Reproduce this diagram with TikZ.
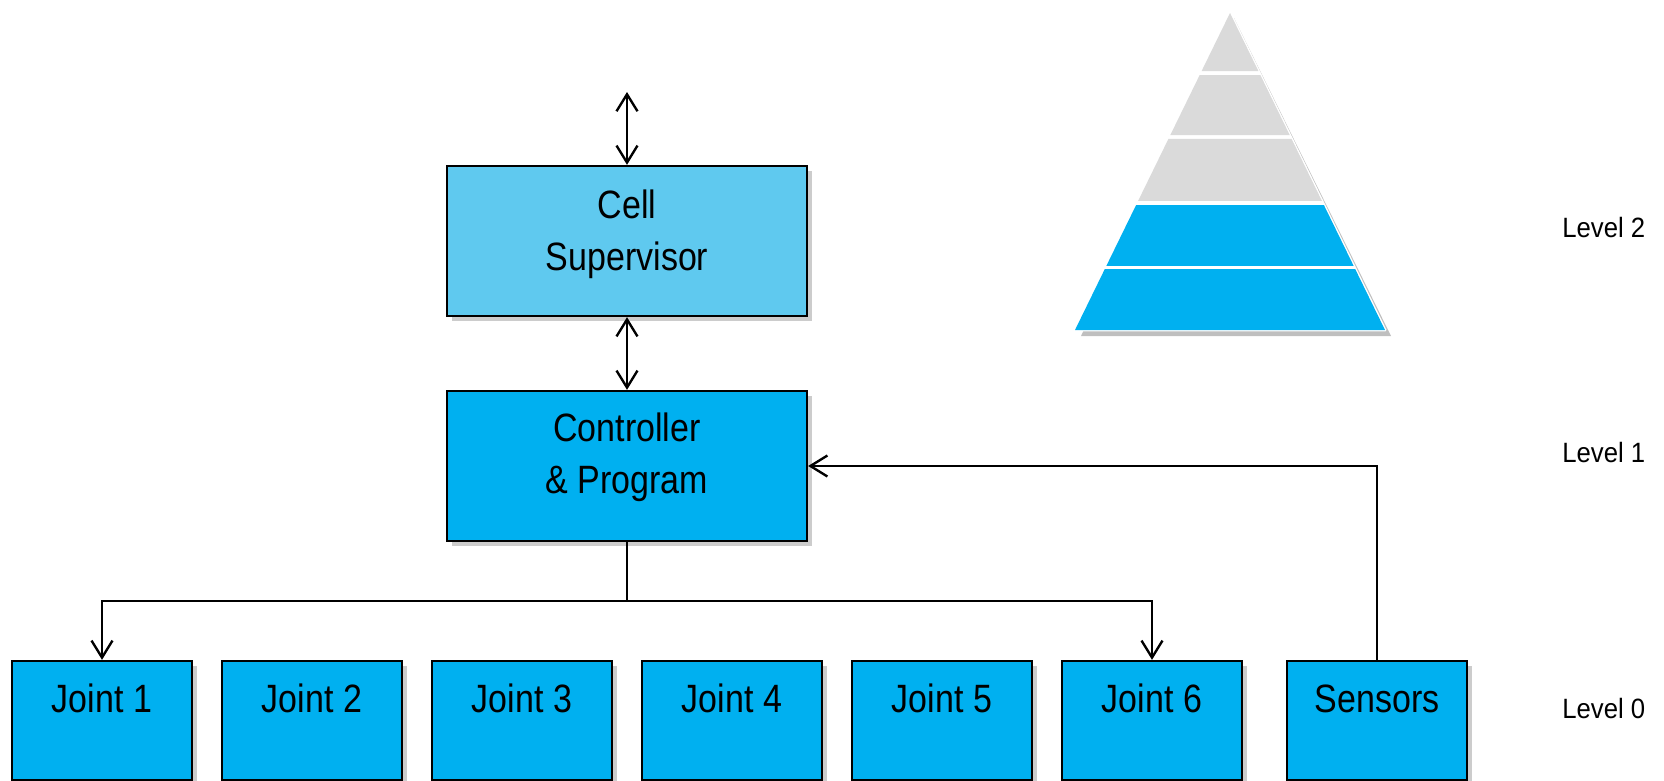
\documentclass[tikz,border=0pt]{standalone}
\usepackage{fontspec}
\setmainfont{Liberation Sans}
\newfontfamily\boxfont{Liberation Sans}[FakeStretch=0.86]
\newfontfamily\lvlfont{Liberation Sans}[FakeStretch=0.92]
\usetikzlibrary{arrows.meta,shadows,calc}
\definecolor{cellblue}{HTML}{5FC9EF}
\definecolor{mainblue}{HTML}{00B0F0}
\definecolor{tiergrey}{HTML}{DADADA}
\begin{document}
\begin{tikzpicture}[x=0.02cm,y=-0.02cm,
  box/.style={draw=black, line width=1.35pt, fill=mainblue, minimum width=7.2cm, minimum height=3cm, inner sep=0pt,
    drop shadow={shadow xshift=0.1cm, shadow yshift=-0.1cm, opacity=0.4}},
  jbox/.style={box, minimum width=3.6cm, minimum height=2.38cm},
  boxtext/.style={font=\boxfont\fontsize{22.5}{29.5}\selectfont, anchor=base, align=center, inner sep=0pt},
  lvl/.style={font=\lvlfont\fontsize{15.9}{19}\selectfont, anchor=base west, inner sep=0pt},
  conn/.style={line width=1.35pt, draw=black},
  >={Straight Barb[length=0.34cm,width=0.42cm]}]
\useasboundingbox (0,0) rectangle (1664,781);

% pyramid
\coordinate (A) at (1230,13);
\coordinate (BL) at (1075,330);
\coordinate (BR) at (1385,330);
\fill[black, opacity=0.25] ($(A)+(4,5)$) -- ($(BR)+(6,6)$) -- ($(BL)+(6,6)$) -- cycle;
\filldraw[white, line width=1.6pt, line join=round] (A) -- (BR) -- (BL) -- cycle;
\fill[tiergrey] (A) -- ($(A)!0.183!(BR)$) -- ($(A)!0.183!(BL)$) -- cycle;
\foreach \ta/\tb/\col in {0.196/0.385/tiergrey, 0.397/0.593/tiergrey, 0.606/0.798/mainblue, 0.808/1/mainblue}{
  \fill[\col] ($(A)!\ta!(BL)$) -- ($(A)!\ta!(BR)$) -- ($(A)!\tb!(BR)$) -- ($(A)!\tb!(BL)$) -- cycle;
}

% boxes
\node[box, fill=cellblue] (cell) at (627,241) {};
\node[box] (ctrl) at (627,466) {};
\node[jbox] (j1) at (102,720.5) {};
\node[jbox] (j2) at (312,720.5) {};
\node[jbox] (j3) at (522,720.5) {};
\node[jbox] (j4) at (732,720.5) {};
\node[jbox] (j5) at (942,720.5) {};
\node[jbox] (j6) at (1152,720.5) {};
\node[jbox] (sens) at (1377,720.5) {};

% texts
\node[boxtext] (celltxt) at (627,270) {Cell\\Supervisor};
\node[boxtext] (ctrltxt) at (627,493) {Controller\\\& Program};
\node[boxtext] (j1t) at (102,712) {Joint 1};
\node[boxtext] (j2t) at (312,712) {Joint 2};
\node[boxtext] (j3t) at (522,712) {Joint 3};
\node[boxtext] (j4t) at (732,712) {Joint 4};
\node[boxtext] (j5t) at (942,712) {Joint 5};
\node[boxtext] (j6t) at (1152,712) {Joint 6};
\node[boxtext] (senst) at (1377,712) {Sensors};

\node[lvl] (l2) at (1562,237) {Level 2};
\node[lvl] (l1) at (1562,462) {Level 1};
\node[lvl] (l0) at (1562,718) {Level 0};

% connectors
\coordinate (top) at (627,92);
\coordinate (bus) at (627,601);
\draw[conn,<->] (top) -- (cell.north);
\draw[conn,<->] (cell.south) -- (ctrl.north);
\draw[conn,->] (ctrl.south) -- (bus) -| (j1.north);
\draw[conn,->] (bus) -| (j6.north);
\draw[conn,->] (sens.north) |- (ctrl.east);
\end{tikzpicture}
\end{document}
